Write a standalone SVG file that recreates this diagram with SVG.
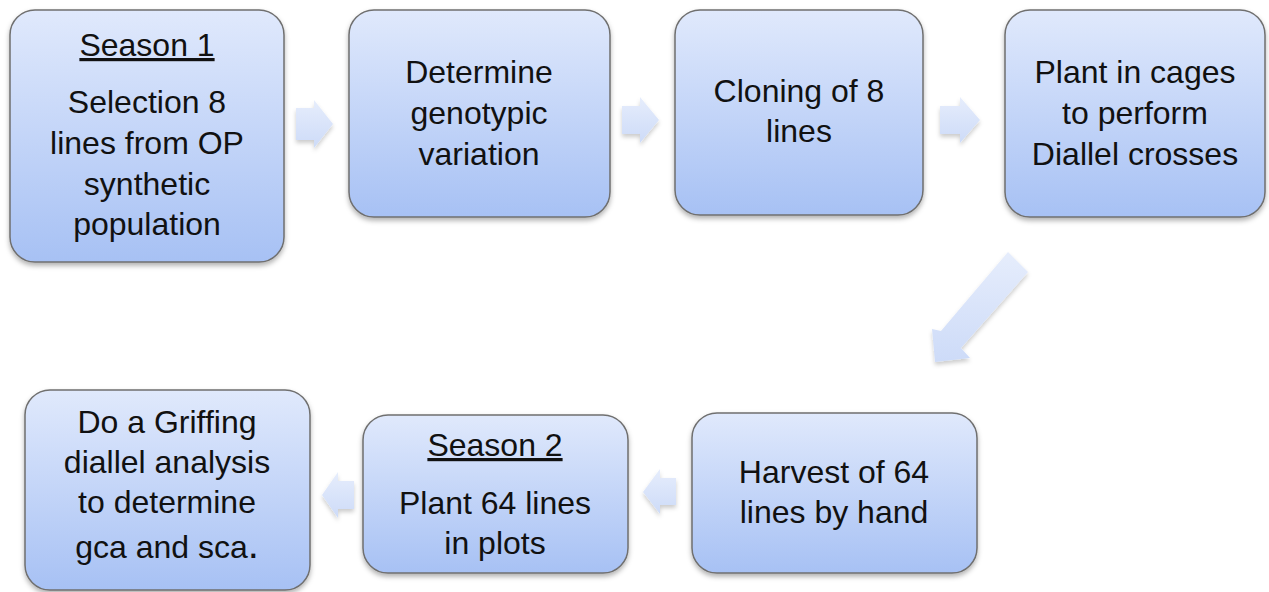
<svg xmlns="http://www.w3.org/2000/svg" width="1269" height="592" viewBox="0 0 1269 592">
<style>
.box{fill:url(#bg);stroke:#6f6f6f;stroke-width:1.5;filter:url(#sh)}
.t{font-family:"Liberation Sans",Arial,sans-serif;font-size:32px;fill:#111;text-anchor:middle}
.u{text-decoration:underline}
.arr{fill:url(#ag);filter:url(#sh2)}
</style>
<defs>
<linearGradient id="bg" x1="0" y1="0" x2="0" y2="1">
<stop offset="0" stop-color="#e0e9fc"/>
<stop offset="1" stop-color="#a7c1f4"/>
</linearGradient>
<linearGradient id="ag" x1="0" y1="0" x2="0" y2="1">
<stop offset="0" stop-color="#e6edfc"/>
<stop offset="1" stop-color="#cddbf8"/>
</linearGradient>
<filter id="sh" x="-10%" y="-10%" width="120%" height="125%">
<feDropShadow dx="0" dy="3" stdDeviation="2.5" flood-color="#000" flood-opacity="0.3"/>
</filter>
<filter id="sh2" x="-30%" y="-30%" width="160%" height="160%">
<feDropShadow dx="0" dy="3" stdDeviation="2" flood-color="#000" flood-opacity="0.2"/>
</filter>
</defs>
<g id="connectors">
<polygon class="arr" points="296,108 314,108 314,100 333,124 314,148 314,140 296,140"/>
<polygon class="arr" points="622,106 640,106 640,97 659,120 640,143 640,134 622,134"/>
<polygon class="arr" points="940,106 960,106 960,97 980,120 960,143 960,134 940,134"/>
<polygon class="arr" points="1008,252 1028,272 961,348 970,358 935,362 932,329 941,331"/>
<polygon class="arr" points="676,478 660,478 660,469 643,492 660,514 660,505 676,505"/>
<polygon class="arr" points="354,481 338,481 338,472 322,495 338,518 338,509 354,509"/>
</g>
<g id="n1">
<rect class="box" x="10" y="10" width="274" height="252" rx="25"/>
<text class="t u" x="147" y="56">Season 1</text>
<text class="t" x="147" y="113">Selection 8</text>
<text class="t" x="147" y="154">lines from OP</text>
<text class="t" x="147" y="195">synthetic</text>
<text class="t" x="147" y="235">population</text>
</g>
<g id="n2">
<rect class="box" x="349" y="10" width="261" height="207" rx="25"/>
<text class="t" x="479" y="83">Determine</text>
<text class="t" x="479" y="124">genotypic</text>
<text class="t" x="479" y="165">variation</text>
</g>
<g id="n3">
<rect class="box" x="675" y="10" width="248" height="205" rx="25"/>
<text class="t" x="799" y="102">Cloning of 8</text>
<text class="t" x="799" y="142">lines</text>
</g>
<g id="n4">
<rect class="box" x="1005" y="10" width="260" height="207" rx="25"/>
<text class="t" x="1135" y="83">Plant in cages</text>
<text class="t" x="1135" y="124">to perform</text>
<text class="t" x="1135" y="165">Diallel crosses</text>
</g>
<g id="n5">
<rect class="box" x="692" y="413" width="285" height="160" rx="25"/>
<text class="t" x="834" y="483">Harvest of 64</text>
<text class="t" x="834" y="523">lines by hand</text>
</g>
<g id="n6">
<rect class="box" x="363" y="415" width="265" height="158" rx="25"/>
<text class="t u" x="495" y="456">Season 2</text>
<text class="t" x="495" y="514">Plant 64 lines</text>
<text class="t" x="495" y="554">in plots</text>
</g>
<g id="n7">
<rect class="box" x="25" y="390" width="285" height="200" rx="25"/>
<text class="t" x="167" y="433">Do a Griffing</text>
<text class="t" x="167" y="473">diallel analysis</text>
<text class="t" x="167" y="513">to determine</text>
<text class="t" x="167" y="558">gca and sca<tspan font-size="40">.</tspan></text>
</g>
</svg>
